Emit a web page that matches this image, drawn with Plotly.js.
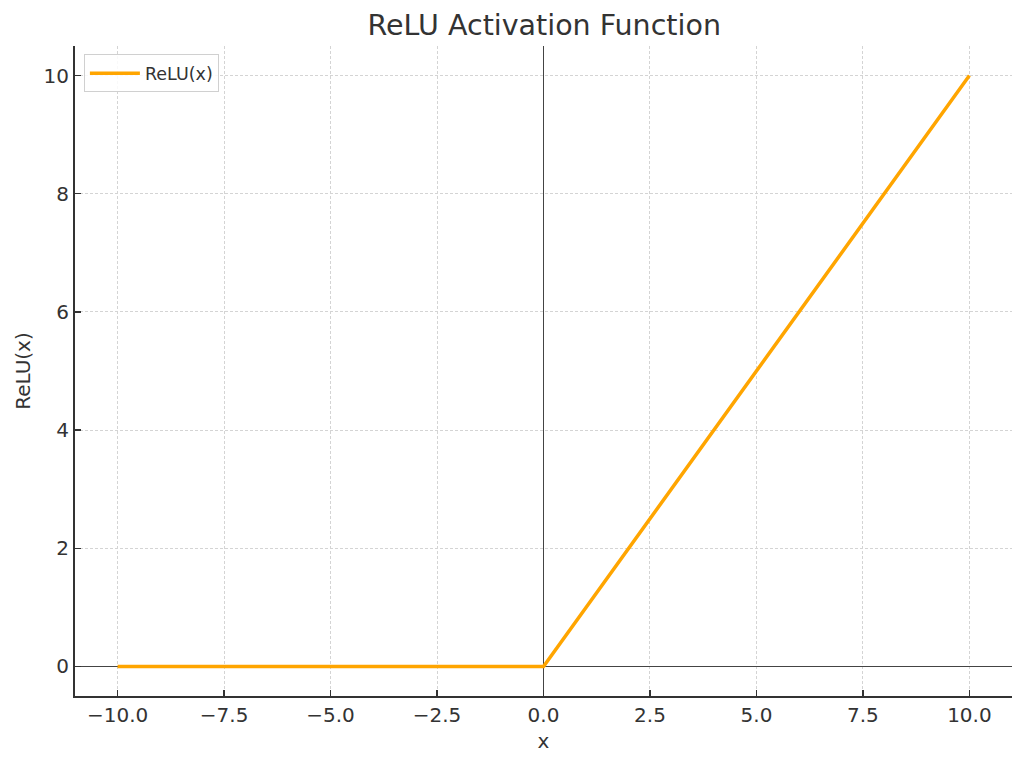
<!DOCTYPE html>
<html>
<head>
<meta charset="utf-8">
<script src="https://cdn.plot.ly/plotly-3.0.1.min.js"></script>
<style>html,body{margin:0;padding:0;background:#fff;}#chart{width:1024px;height:765px;}</style>
</head>
<body>
<div id="chart"></div>
<script>
// Data
const xValues = [-10, 0, 10];
const reluValues = [0, 0, 10];
const seriesName = "ReLU(x)";
const xTickVals = [-10, -7.5, -5, -2.5, 0, 2.5, 5, 7.5, 10];
const xTickText = ["\u221210.0", "\u22127.5", "\u22125.0", "\u22122.5", "0.0", "2.5", "5.0", "7.5", "10.0"];
const yTickVals = [0, 2, 4, 6, 8, 10];
const yTickText = ["0", "2", "4", "6", "8", "10"];

const font = "DejaVu Sans, sans-serif";
const textColor = "#333333";

const trace = {
  x: xValues,
  y: reluValues,
  type: "scatter",
  mode: "lines",
  name: seriesName,
  line: {color: "#FFA500", width: 3.5},
  showlegend: true
};

const layout = {
  width: 1024,
  height: 765,
  margin: {l: 75, r: 12, t: 46, b: 69},
  paper_bgcolor: "#ffffff",
  plot_bgcolor: "#ffffff",
  font: {family: font, color: textColor, size: 20},
  title: {
    text: "ReLU Activation Function",
    font: {family: font, size: 28.5, color: textColor},
    x: 0.5315, xanchor: "center", xref: "container",
    y: 0.967, yanchor: "middle", yref: "container"
  },
  showlegend: true,
  legend: {
    x: 0.0095, y: 0.987, xanchor: "left", yanchor: "top",
    bgcolor: "rgba(255,255,255,0.85)",
    bordercolor: "#d0d0d0", borderwidth: 1,
    itemwidth: 50,
    font: {family: font, size: 17.5, color: textColor}
  },
  xaxis: {
    range: [-11, 11],
    tickmode: "array",
    tickvals: xTickVals,
    ticktext: xTickText,
    ticks: "inside", ticklen: 6, tickwidth: 1.5, tickcolor: textColor,
    tickfont: {family: font, size: 20, color: textColor},
    showline: true, linecolor: textColor, linewidth: 2, mirror: false,
    showgrid: true, gridcolor: "#d4d4d4", gridwidth: 1, griddash: "3px,2px",
    zeroline: true, zerolinecolor: "#444444", zerolinewidth: 1,
    title: {text: "x", font: {family: font, size: 20, color: textColor}, standoff: 8},
    fixedrange: true
  },
  yaxis: {
    range: [-0.5, 10.5],
    tickmode: "array",
    tickvals: yTickVals,
    ticktext: yTickText,
    ticks: "inside", ticklen: 6, tickwidth: 1.5, tickcolor: textColor,
    tickfont: {family: font, size: 20, color: textColor},
    showline: true, linecolor: textColor, linewidth: 2, mirror: false,
    showgrid: true, gridcolor: "#d4d4d4", gridwidth: 1, griddash: "3px,2px",
    zeroline: true, zerolinecolor: "#444444", zerolinewidth: 1,
    title: {text: "ReLU(x)", font: {family: font, size: 20, color: textColor}, standoff: 8},
    fixedrange: true
  }
};

Plotly.newPlot("chart", [trace], layout, {staticPlot: true, displayModeBar: false});
</script>
</body>
</html>
